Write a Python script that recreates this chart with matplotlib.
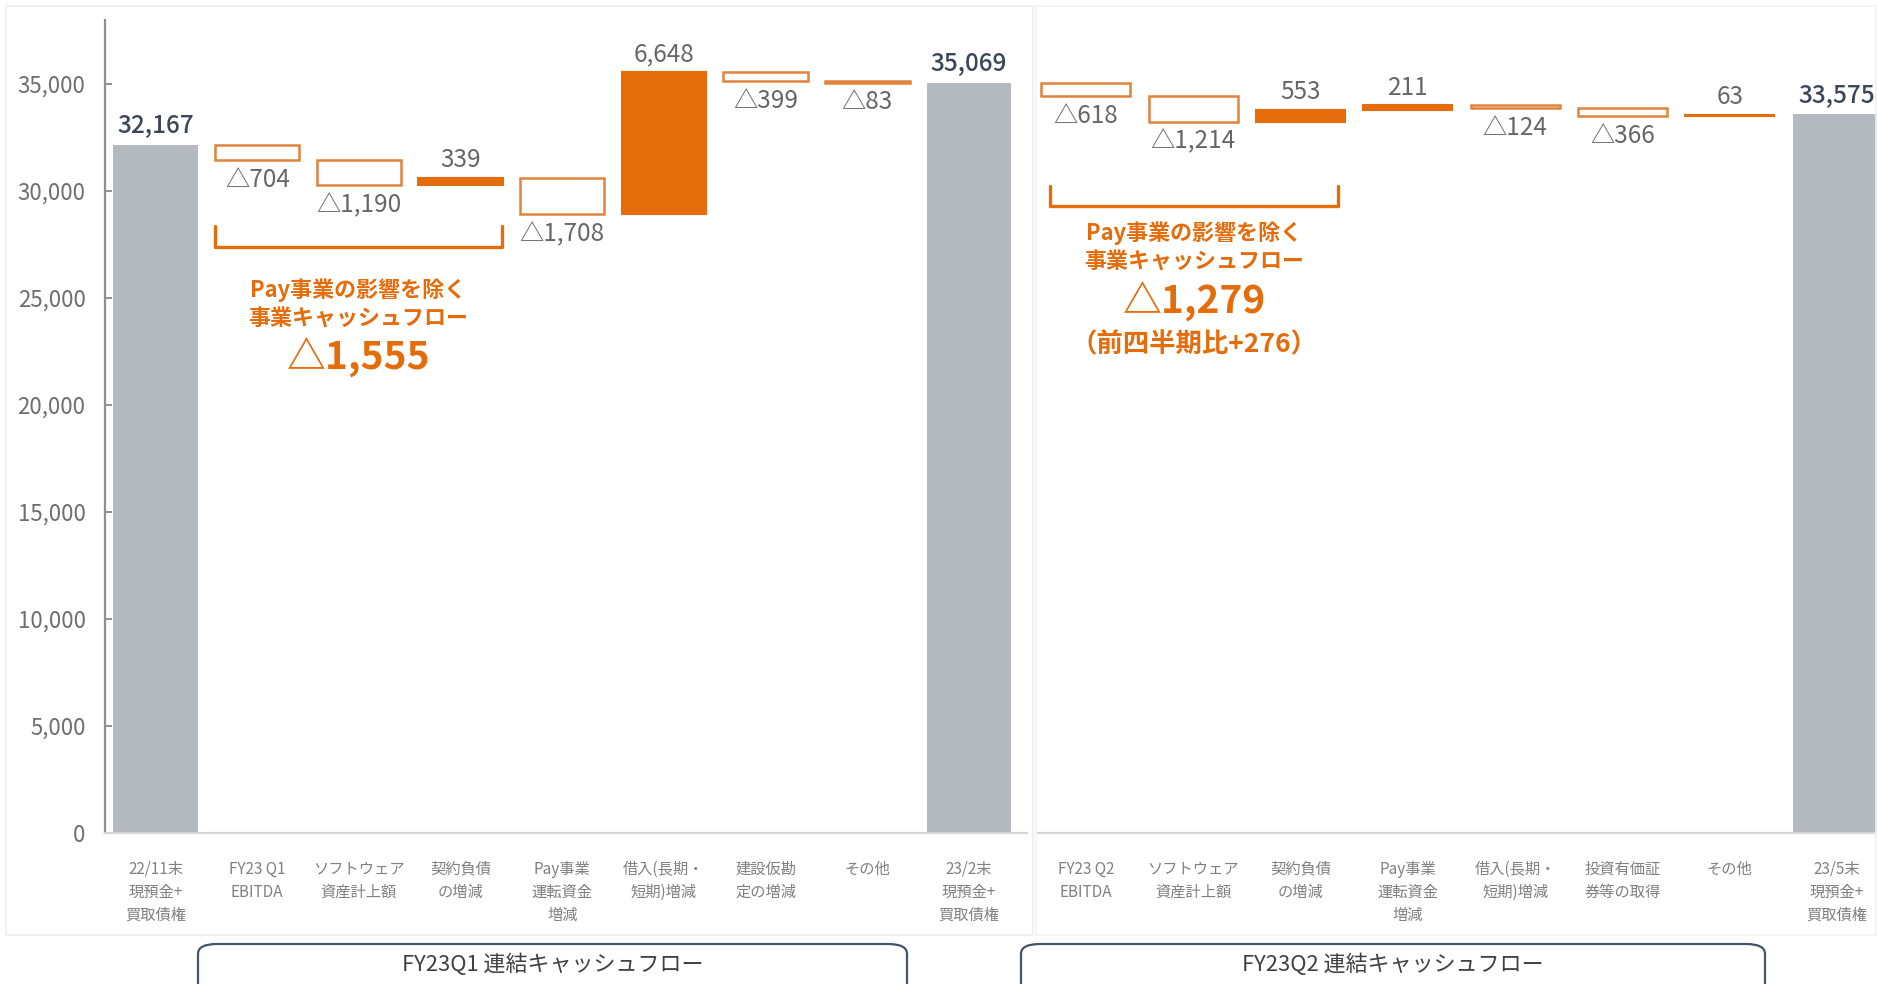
import matplotlib
matplotlib.use('Agg')
import matplotlib.pyplot as plt
from matplotlib.patches import FancyBboxPatch, Rectangle
import numpy as np

plt.rcParams['font.family'] = ['Noto Sans CJK JP', 'DejaVu Sans']

# data
q1_labels = ['22/11末\n現預金+\n買取債権', 'FY23 Q1\nEBITDA', 'ソフトウェア\n資産計上額', '契約負債\nの増減',
             'Pay事業\n運転資金\n増減', '借入(長期・\n短期)増減', '建設仮勘\n定の増減', 'その他',
             '23/2末\n現預金+\n買取債権']
q1_start = 32167
q1_changes = [-704, -1190, 339, -1708, 6648, -399, -83]
q1_end = 35069

q2_labels = ['FY23 Q2\nEBITDA', 'ソフトウェア\n資産計上額', '契約負債\nの増減', 'Pay事業\n運転資金\n増減',
             '借入(長期・\n短期)増減', '投資有価証\n券等の取得', 'その他', '23/5末\n現預金+\n買取債権']
q2_start = 35069
q2_changes = [-618, -1214, 553, 211, -124, -366, 63]
q2_end = 33575

yticks = [0, 5000, 10000, 15000, 20000, 25000, 30000, 35000]

ORANGE = '#E46C0A'
EDGE = '#E2833C'
GREY = '#B4B8BF'
TXT = '#666666'
DARK = '#3B4658'

W, H = 1877, 984
fig = plt.figure(figsize=(W / 100, H / 100), dpi=100)

# faint panel frames
fig.patches.append(Rectangle((6 / W, 1 - 935 / H), 1027 / W, 929 / H, transform=fig.transFigure,
                             fill=False, edgecolor='#EDEDED', linewidth=1.2))
fig.patches.append(Rectangle((1036 / W, 1 - 935 / H), 840 / W, 929 / H, transform=fig.transFigure,
                             fill=False, edgecolor='#F2F2F2', linewidth=1.2))

ybot = 1 - 833 / H
yh = (38000 / 5000 * 107) / H
ax1 = fig.add_axes([105 / W, ybot, 922 / W, yh])
ax2 = fig.add_axes([1038 / W, ybot, 839 / W, yh])


def fmt(v):
    return f'{v:,}' if v >= 0 else '△' + f'{-v:,}'


def waterfall(ax, start, changes, end, show_start):
    bw = 0.83
    n = len(changes)
    offs = 1 if show_start else 0
    if show_start:
        ax.bar(0, start, width=bw, color=GREY, linewidth=0)
        ax.annotate(f'{start:,}', (0, start), xytext=(0, 4), textcoords='offset points',
                    ha='center', va='bottom', fontsize=17.5, color=DARK, fontweight='medium')
    level = start
    for i, c in enumerate(changes):
        x = i + offs
        lo = min(level, level + c)
        if c >= 0:
            ax.bar(x, c, bottom=lo, width=bw, color=ORANGE, edgecolor=ORANGE, linewidth=1.5)
            ax.annotate(fmt(c), (x, level + c), xytext=(0, 3.5), textcoords='offset points',
                        ha='center', va='bottom', fontsize=17.5, color=TXT)
        else:
            ax.bar(x, -c, bottom=lo, width=bw, color='white', edgecolor=EDGE, linewidth=1.8)
            ax.annotate(fmt(c), (x, lo), xytext=(0, -5), textcoords='offset points',
                        ha='center', va='top', fontsize=17.5, color=TXT)
        level += c
    xe = n + offs
    ax.bar(xe, end, width=bw, color=GREY, linewidth=0)
    ax.annotate(f'{end:,}', (xe, end), xytext=(0, 4), textcoords='offset points',
                ha='center', va='bottom', fontsize=17.5, color=DARK, fontweight='medium')
    ax.set_ylim(0, 38000)
    for s in ['top', 'right']:
        ax.spines[s].set_visible(False)
    ax.spines['bottom'].set_color('#D6D6D6')
    ax.spines['bottom'].set_linewidth(1.6)
    ax.tick_params(axis='x', length=0, pad=20, labelsize=11, labelcolor='#808080')


waterfall(ax1, q1_start, q1_changes, q1_end, True)
ax1.set_xlim(-0.497, 8.57)
ax1.set_xticks(range(len(q1_labels)))
ax1.set_xticklabels(q1_labels)
ax1.set_yticks(yticks)
ax1.set_yticklabels([f'{v:,}' for v in yticks])
ax1.spines['left'].set_color('#8C9099')
ax1.spines['left'].set_linewidth(1.6)
ax1.tick_params(axis='y', direction='in', length=5, width=1.4, color='#8C9099', pad=14,
                labelsize=16, labelcolor='#6E6E6E')

waterfall(ax2, q2_start, q2_changes, q2_end, False)
ax2.set_xlim(-0.447, 7.372)
ax2.set_xticks(range(len(q2_labels)))
ax2.set_xticklabels(q2_labels)
ax2.spines['left'].set_visible(False)
ax2.set_yticks([])

for ax in (ax1, ax2):
    for t in ax.get_xticklabels():
        t.set_linespacing(1.45)


# brackets and callouts
def bracket(ax, x0, x1, ytop, ybtm):
    ax.plot([x0, x0, x1, x1], [ytop, ybtm, ybtm, ytop], color=ORANGE, linewidth=2.4,
            solid_joinstyle='round', solid_capstyle='round', clip_on=False)


bracket(ax1, 0.585, 3.407, 28364, 27383)
cx = (0.585 + 3.407) / 2
ax1.text(cx, 25374, 'Pay事業の影響を除く', ha='center', va='center', fontsize=15.8, color=ORANGE, fontweight='bold')
ax1.text(cx, 24065, '事業キャッシュフロー', ha='center', va='center', fontsize=15.8, color=ORANGE, fontweight='bold')
ax1.text(cx, 22196, '△1,555', ha='center', va='center', fontsize=28, color=ORANGE, fontweight='bold')

bracket(ax2, -0.335, 2.35, 30234, 29299)
cx = (-0.335 + 2.35) / 2
ax2.text(cx, 28037, 'Pay事業の影響を除く', ha='center', va='center', fontsize=15.8, color=ORANGE, fontweight='bold')
ax2.text(cx, 26729, '事業キャッシュフロー', ha='center', va='center', fontsize=15.8, color=ORANGE, fontweight='bold')
ax2.text(cx, 24813, '△1,279', ha='center', va='center', fontsize=28, color=ORANGE, fontweight='bold')
ax2.text(cx, 22800, '（前四半期比+276）', ha='center', va='center', fontsize=19, color=ORANGE, fontweight='bold')

# bottom captions
for x0, x1, label in [(198, 907, 'FY23Q1 連結キャッシュフロー'), (1021, 1765, 'FY23Q2 連結キャッシュフロー')]:
    box = FancyBboxPatch((x0 / W, 1 - 1000 / H), (x1 - x0) / W, 56 / H,
                         boxstyle='round,pad=0,rounding_size=0.01', transform=fig.transFigure,
                         fill=False, edgecolor='#44546A', linewidth=1.6, clip_on=False)
    fig.patches.append(box)
    fig.text((x0 + x1) / 2 / W, 1 - 965 / H, label, ha='center', va='center', fontsize=15.8, color='#404040')

plt.savefig('out.png', dpi=100)
